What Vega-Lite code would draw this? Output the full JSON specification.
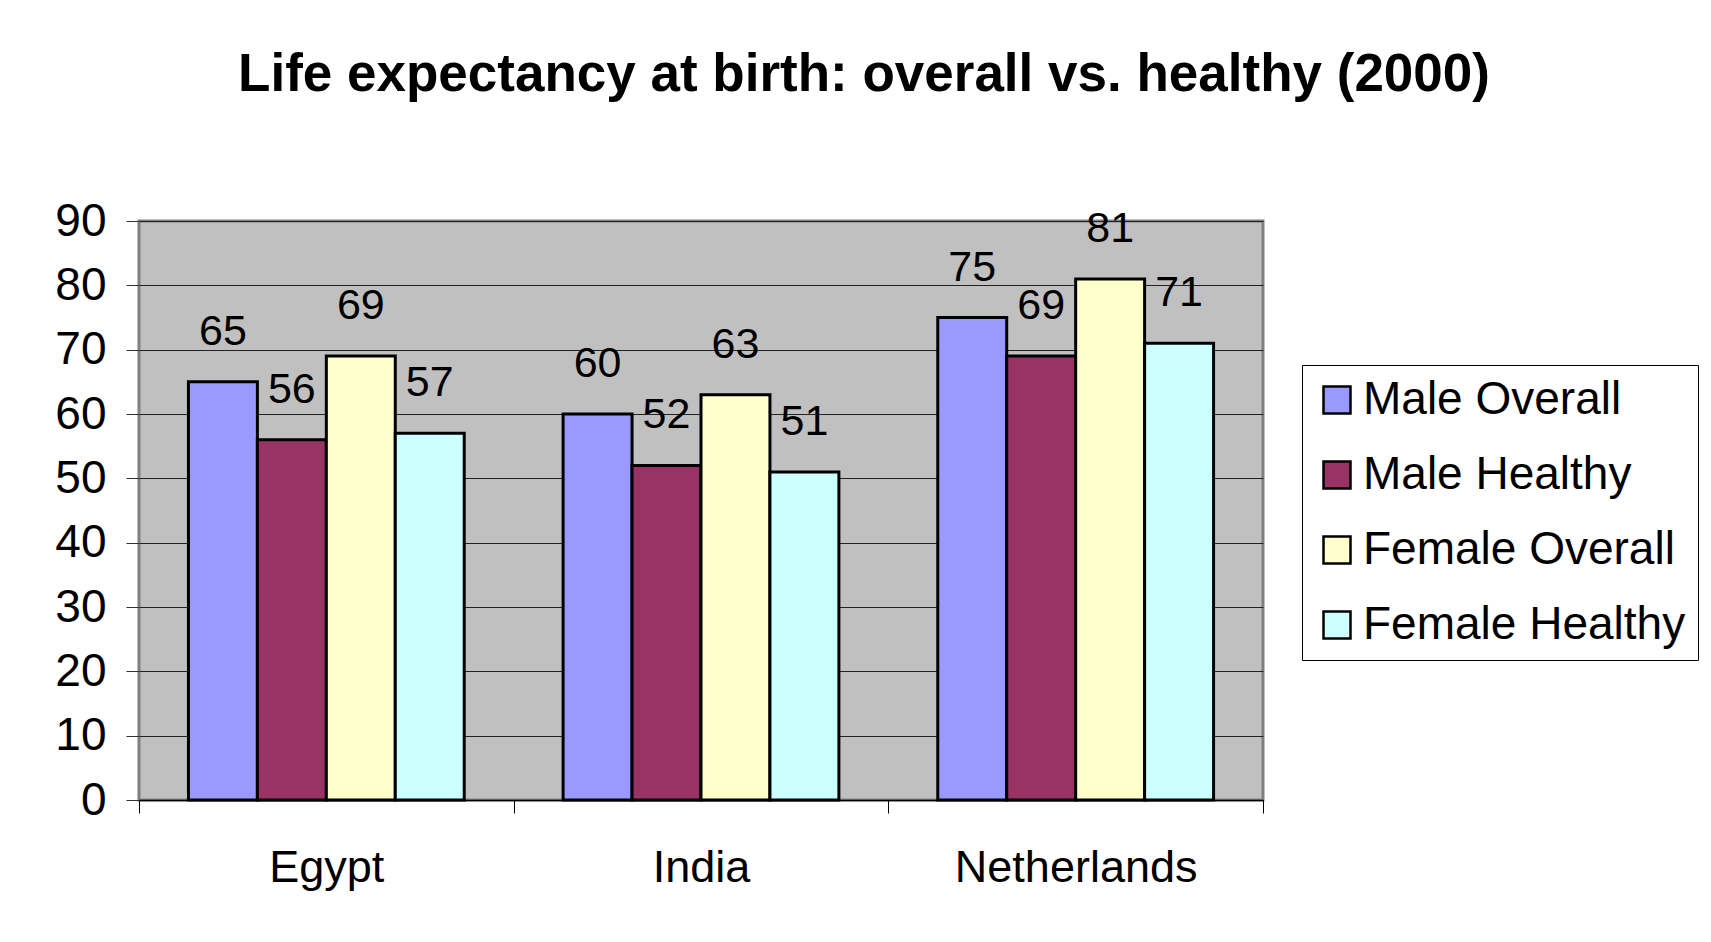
{
  "$schema": "https://vega.github.io/schema/vega-lite/v6.json",
  "autosize": {"type": "none"},
  "width": 1124,
  "height": 579,
  "padding": {"left": 139, "top": 221, "right": 448, "bottom": 142},
  "background": "white",
  "title": {
    "text": "Life expectancy at birth: overall vs. healthy (2000)",
    "font": "Liberation Sans",
    "fontSize": 53,
    "fontWeight": "bold",
    "color": "black",
    "anchor": "middle",
    "frame": "group",
    "dx": 163,
    "baseline": "alphabetic",
    "offset": 54
  },
  "data": {
    "values": [
      {"country": "Egypt", "series": "Male Overall", "value": 65},
      {"country": "Egypt", "series": "Male Healthy", "value": 56},
      {"country": "Egypt", "series": "Female Overall", "value": 69},
      {"country": "Egypt", "series": "Female Healthy", "value": 57},
      {"country": "India", "series": "Male Overall", "value": 60},
      {"country": "India", "series": "Male Healthy", "value": 52},
      {"country": "India", "series": "Female Overall", "value": 63},
      {"country": "India", "series": "Female Healthy", "value": 51},
      {"country": "Netherlands", "series": "Male Overall", "value": 75},
      {"country": "Netherlands", "series": "Male Healthy", "value": 69},
      {"country": "Netherlands", "series": "Female Overall", "value": 81},
      {"country": "Netherlands", "series": "Female Healthy", "value": 71}
    ]
  },
  "encoding": {
    "x": {
      "field": "country",
      "type": "nominal",
      "sort": ["Egypt", "India", "Netherlands"],
      "scale": {"paddingInner": 0, "paddingOuter": 0},
      "axis": {
        "title": null,
        "labelAngle": 0,
        "labelFont": "Liberation Sans",
        "labelFontSize": 45,
        "labelColor": "black",
        "labelPadding": 32,
        "labelLimit": 600,
        "tickBand": "extent",
        "tickSize": 13,
        "tickColor": "black",
        "tickWidth": 1,
        "domain": true,
        "domainColor": "black",
        "domainWidth": 1.5,
        "grid": false
      }
    },
    "xOffset": {
      "field": "series",
      "type": "nominal",
      "sort": ["Male Overall", "Male Healthy", "Female Overall", "Female Healthy"],
      "scale": {"paddingInner": 0, "paddingOuter": 0.717}
    },
    "y": {
      "field": "value",
      "type": "quantitative",
      "scale": {"domain": [0, 90], "nice": false},
      "axis": {
        "title": null,
        "values": [0, 10, 20, 30, 40, 50, 60, 70, 80, 90],
        "labelFont": "Liberation Sans",
        "labelFontSize": 46,
        "labelColor": "black",
        "labelPadding": 20,
        "tickSize": 13,
        "tickColor": "#333333",
        "tickWidth": 1,
        "domain": false,
        "grid": true,
        "gridColor": "#222222",
        "gridWidth": 1.2
      }
    }
  },
  "layer": [
    {
      "mark": {"type": "bar", "stroke": "black", "strokeWidth": 3},
      "encoding": {
        "color": {
          "field": "series",
          "type": "nominal",
          "sort": ["Male Overall", "Male Healthy", "Female Overall", "Female Healthy"],
          "scale": {
            "domain": ["Male Overall", "Male Healthy", "Female Overall", "Female Healthy"],
            "range": ["#9999FF", "#993366", "#FFFFCC", "#CCFFFF"]
          },
          "legend": {
            "title": null,
            "orient": "none",
            "legendX": 1163,
            "legendY": 144,
            "fillColor": "white",
            "strokeColor": "black",
            "padding": 12,
            "symbolType": "square",
            "symbolSize": 729,
            "symbolStrokeColor": "black",
            "symbolStrokeWidth": 2.5,
            "symbolOpacity": 1,
            "labelFont": "Liberation Sans",
            "labelFontSize": 46,
            "labelColor": "black",
            "labelOffset": 3,
            "labelLimit": 500,
            "rowPadding": 29
          }
        }
      }
    },
    {
      "mark": {
        "type": "text",
        "baseline": "alphabetic",
        "dy": -37,
        "font": "Liberation Sans",
        "fontSize": 43,
        "color": "black"
      },
      "encoding": {
        "text": {"field": "value", "type": "quantitative"}
      }
    }
  ],
  "config": {
    "view": {"fill": "#C0C0C0", "stroke": "#808080", "strokeWidth": 3}
  }
}
